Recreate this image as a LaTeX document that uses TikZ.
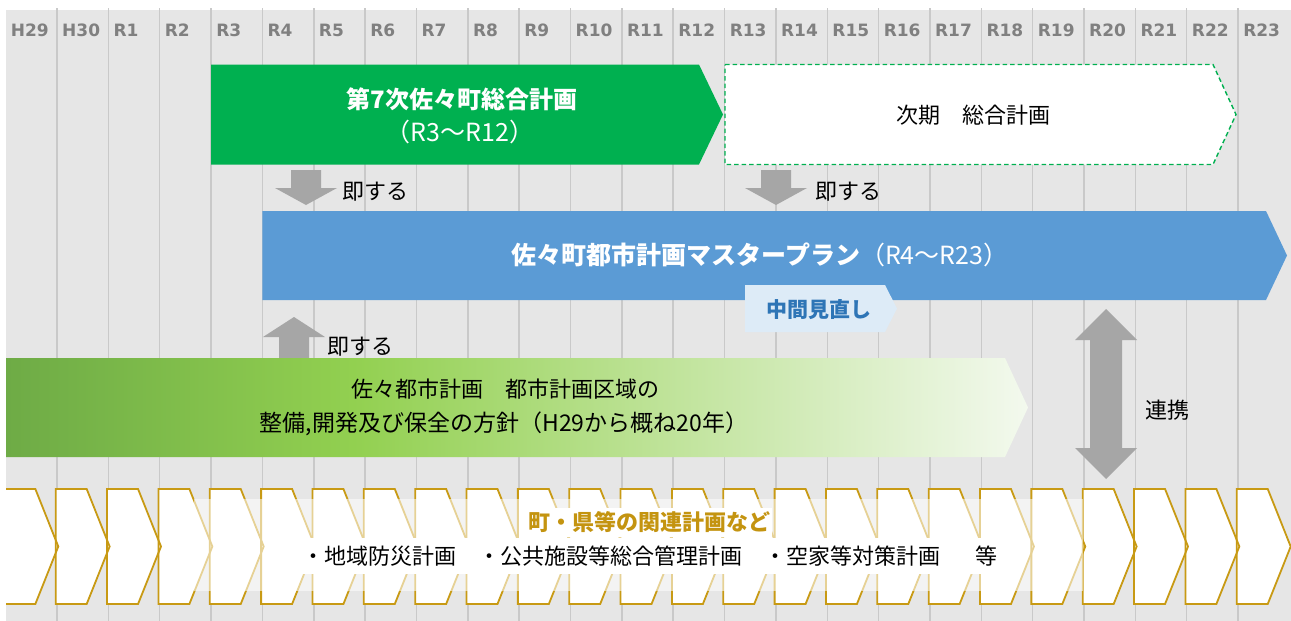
\documentclass[tikz,border=0pt]{standalone}
\usepackage{fontspec}
\newfontfamily\jp{Noto Sans CJK JP}
\newfontfamily\hdrfont{DejaVu Sans}
\definecolor{bgGrey}{HTML}{E6E6E6}
\definecolor{sepGrey}{HTML}{C9C9C9}
\definecolor{hdrText}{HTML}{808080}
\definecolor{planGreen}{HTML}{00B050}
\definecolor{masterBlue}{HTML}{5B9BD5}
\definecolor{tagFill}{HTML}{DDEBF7}
\definecolor{tagText}{HTML}{2E75B6}
\definecolor{arrowGrey}{HTML}{A6A6A6}
\definecolor{goldLine}{HTML}{C89A14}
\definecolor{goldText}{HTML}{C49410}
\definecolor{gA}{HTML}{6EAB46}
\definecolor{gB}{HTML}{92D050}
\definecolor{gC}{HTML}{F3F9EE}
\pgfdeclarehorizontalshading{gbar}{100bp}{color(0bp)=(gA); color(25bp)=(gA); color(42bp)=(gB); color(75bp)=(gC); color(100bp)=(gC)}
\tikzset{
  hdrlbl/.style={anchor=west, inner sep=0pt, text=hdrText, font=\hdrfont\bfseries\fontsize{17}{20}\selectfont},
  jtxt/.style={inner sep=0pt, font=\jp\fontsize{22}{26}\selectfont},
  jbold/.style={inner sep=0pt, font=\jp\bfseries\fontsize{24}{28}\selectfont},
  sepline/.style={draw=sepGrey, line width=1.5pt},
  blockarrow/.style={fill=arrowGrey},
  chevfill/.style={fill=white},
  chevline/.style={draw=goldLine, line width=1.8pt},
}
\begin{document}
\begin{tikzpicture}[x=1pt,y=-1pt]
\useasboundingbox (0,0) rectangle (1291,621);
\fill[white] (0,0) rectangle (1291,621);
% timeline background
\fill[bgGrey] (5.65,10) rectangle (1291,621);
\foreach \k in {1,...,24}{
  \draw[sepline] ({5.65+51.35*\k},8) -- ({5.65+51.35*\k},621);
}
\foreach \lab [count=\i from 0] in {H29,H30,R1,R2,R3,R4,R5,R6,R7,R8,R9,R10,R11,R12,R13,R14,R15,R16,R17,R18,R19,R20,R21,R22,R23}{
  \node[hdrlbl] (h\i) at ({5.65+51.35*\i+5},30) {\lab};
}
% 7th comprehensive plan
\fill[planGreen] (211,64.5) -- (699,64.5) -- (723,114.5) -- (699,164.5) -- (211,164.5) -- cycle;
\node[jbold, text=white] (plan7) at (462,99) {第7次佐々町総合計画};
\node[jtxt, font=\jp\fontsize{25}{29}\selectfont, text=white] (plan7p) at (460,132) {（R3〜R12）};
% next comprehensive plan
\draw[planGreen, line width=1.4pt, dash pattern=on 4.5pt off 3pt, fill=white] (725,64.5) -- (1213,64.5) -- (1236,114.5) -- (1213,164.5) -- (725,164.5) -- cycle;
\node[jtxt] (nextplan) at (973,115) {次期　総合計画};
% down arrows
\foreach \cx in {306,776}{
  \fill[blockarrow] (\cx-15,170) -- (\cx+15,170) -- (\cx+15,188) -- (\cx+31,188) -- (\cx,205) -- (\cx-31,188) -- (\cx-15,188) -- cycle;
}
\node[jtxt, anchor=west] (soku1) at (342,192) {即する};
\node[jtxt, anchor=west] (soku2) at (815,192) {即する};
% master plan
\fill[masterBlue] (262.4,211) -- (1266,211) -- (1287,255.5) -- (1266,300) -- (262.4,300) -- cycle;
\node[jtxt, font=\jp\fontsize{25}{29}\selectfont, text=white] (master) at (760,255) {{\bfseries 佐々町都市計画マスタープラン}（R4〜R23）};
% mid review tag
\fill[tagFill] (745,285) -- (885,285) -- (897,308.5) -- (885,332) -- (745,332) -- cycle;
\node[jtxt, font=\jp\bfseries\fontsize{21}{25}\selectfont, text=tagText] (review) at (819,310) {中間見直し};
% up arrow
\fill[blockarrow] (279,358) -- (279,337) -- (263,337) -- (294,317) -- (325,337) -- (309,337) -- (309,358) -- cycle;
% area policy bar
\shade[shading=gbar] (6,358) -- (1005,358) -- (1028,407.5) -- (1005,457) -- (6,457) -- cycle;
\node[jtxt, anchor=west] (soku3) at (327,347) {即する};
\node[jtxt] (policy1) at (505,389) {佐々都市計画　都市計画区域の};
\node[jtxt, font=\jp\fontsize{23}{27}\selectfont] (policy2) at (504,424) {整備,開発及び保全の方針（H29から概ね20年）};
% cooperation double arrow
\fill[blockarrow] (1106,309) -- (1137,340) -- (1122,340) -- (1122,448) -- (1137,448) -- (1106,479) -- (1075,448) -- (1090,448) -- (1090,340) -- (1075,340) -- cycle;
\node[jtxt, anchor=west] (renkei) at (1145,410) {連携};
% chevrons
\foreach \k in {0,...,24}{
  \pgfmathsetmacro\L{5.65+51.35*\k-1.3}
  \pgfmathsetmacro\B{\L+31}
  \pgfmathsetmacro\T{5.65+51.35*(\k+1)+1.3}
  \fill[chevfill] (\L,489) -- (\B,489) -- (\T,546.5) -- (\B,604) -- (\L,604) -- cycle;
}
\foreach \k in {0,...,24}{
  \pgfmathsetmacro\L{5.65+51.35*\k-1.3}
  \pgfmathsetmacro\B{\L+31}
  \pgfmathsetmacro\T{5.65+51.35*(\k+1)+1.3}
  \draw[chevline] (\L,489) -- (\B,489) -- (\T,546.5) -- (\B,604) -- (\L,604) -- cycle;
}
\fill[white] (0,0) rectangle (5.65,621);
\fill[white, opacity=0.55] (194,499) rectangle (1083,591);
\node[jtxt, font=\jp\bfseries\fontsize{22}{26}\selectfont, text=goldText, fill=white, inner xsep=2pt, inner ysep=3.5pt] (related) at (649,522.5) {町・県等の関連計画など};
\node[jtxt, fill=white, inner xsep=0pt, inner ysep=8pt] (items) at (650,556) {・地域防災計画　・公共施設等総合管理計画　・空家等対策計画\hspace{1.6em}等};
\end{tikzpicture}
\end{document}
